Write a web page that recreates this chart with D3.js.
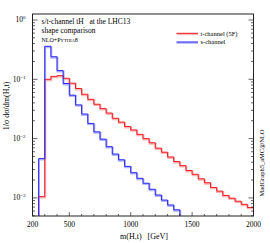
<!DOCTYPE html>
<html>
<head>
<meta charset="utf-8">
<script src="https://cdn.jsdelivr.net/npm/d3@7"></script>
<style>
  body { margin: 0; background: #fff; }
  svg { display: block; font-family: "Liberation Serif", "DejaVu Serif", serif; }
</style>
</head>
<body>
<svg id="chart" width="270" height="243"></svg>
<script>
// lower bin edges (GeV), bin width 50
var binWidth = 50;
var redEdges = [250, 300, 350, 400, 450, 500, 550, 600, 650, 700, 750, 800, 850, 900, 950,
  1000, 1050, 1100, 1150, 1200, 1250, 1300, 1350, 1400, 1450, 1500, 1550, 1600, 1650, 1700,
  1750, 1800, 1850, 1900, 1950];
var redValues = [0.00105, 0.100, 0.112, 0.115, 0.104, 0.086, 0.070, 0.056, 0.046, 0.038,
  0.032, 0.027, 0.022, 0.019, 0.016, 0.0140, 0.0118, 0.0100, 0.0085, 0.0069, 0.0059, 0.0049,
  0.0041, 0.0035, 0.0029, 0.0025, 0.0021, 0.0018, 0.0015, 0.0013, 0.0011, 0.00099, 0.00088,
  0.00078, 0.00069];
var blueEdges = [250, 300, 350, 400, 450, 500, 550, 600, 650, 700, 750, 800, 850, 900, 950,
  1000, 1050, 1100, 1150, 1200, 1250, 1300, 1350];
var blueValues = [0.0046, 0.36, 0.24, 0.14, 0.085, 0.054, 0.037, 0.026, 0.018, 0.013, 0.0098,
  0.0073, 0.0055, 0.0044, 0.0034, 0.00266, 0.00214, 0.00177, 0.0014, 0.00112, 0.00092,
  0.00076, 0.00063];
var xTickLabels = [200, 500, 1000, 1500, 2000];
var yDecades = [-3, -2, -1, 0];
var legendNames = ['t-channel (5F)', 's-channel'];

var margin = {top: 14, right: 16.5, bottom: 27, left: 32.5};
var outerWidth = 270, outerHeight = 243;
var width = outerWidth - margin.left - margin.right;
var height = outerHeight - margin.top - margin.bottom;

var svg = d3.select('#chart');
var g = svg.append('g').attr('transform', 'translate(' + margin.left + ',' + margin.top + ')');

var x = d3.scaleLinear().domain([200, 2000]).range([0, width]);
var y = d3.scaleLog().domain([Math.pow(10, -3.305), Math.pow(10, 0.101)]).range([height, 0]);

var yMin = y.domain()[0];

// step outline of a histogram, dropping to the bottom at both ends
var histPoints = function(edges, values) {
  var pts = [[edges[0], yMin]];
  edges.forEach(function(e, i) {
    pts.push([e, values[i]]);
    pts.push([e + binWidth, values[i]]);
  });
  pts.push([edges[edges.length - 1] + binWidth, yMin]);
  return pts;
};

var line = d3.line()
    .x(function(d) { return x(d[0]); })
    .y(function(d) { return y(d[1]); });

var plot = g.append('g');
plot.append('clipPath').attr('id', 'clip').append('rect').attr('width', width).attr('height', height);
var hist = plot.append('g').attr('clip-path', 'url(#clip)');

var series = [
  {edges: redEdges, values: redValues, color: '#f01c24', light: '#f9b4b4'},
  {edges: blueEdges, values: blueValues, color: '#2a2af0', light: '#b4b4fc'}
];

// pale band under each histogram
series.forEach(function(s) {
  hist.append('path')
      .attr('d', line(histPoints(s.edges, s.values)))
      .attr('transform', 'translate(0.4,0.9)')
      .attr('fill', 'none')
      .attr('stroke', s.light)
      .attr('stroke-width', 2);
});
series.forEach(function(s) {
  hist.append('path')
      .attr('d', line(histPoints(s.edges, s.values)))
      .attr('fill', 'none')
      .attr('stroke', s.color)
      .attr('stroke-width', 1);
});

//
// Axes
//
var minorX = d3.range(200, 2001, 100);
var majorY = yDecades.map(function(k) { return Math.pow(10, k); });
var minorY = [];
[-4, -3, -2, -1, 0].forEach(function(k) {
  for (var m = 2; m <= 9; m++) {
    var v = m * Math.pow(10, k);
    if (v > yMin && v < y.domain()[1]) minorY.push(v);
  }
});

var ticks = g.append('g').attr('stroke', '#222').attr('stroke-width', 0.7);
// bottom ticks
ticks.selectAll('.xt').data(minorX).enter().append('line')
    .attr('x1', function(d) { return x(d); }).attr('x2', function(d) { return x(d); })
    .attr('y1', height).attr('y2', function(d) { return height - (d % 500 === 0 ? 4 : 2); });
// left/right ticks
[0, width].forEach(function(side) {
  var dir = side === 0 ? 1 : -1;
  ticks.selectAll(null).data(majorY).enter().append('line')
      .attr('x1', side).attr('x2', side + dir * 5)
      .attr('y1', function(d) { return y(d); }).attr('y2', function(d) { return y(d); });
  ticks.selectAll(null).data(minorY).enter().append('line')
      .attr('x1', side).attr('x2', side + dir * 2.5)
      .attr('y1', function(d) { return y(d); }).attr('y2', function(d) { return y(d); });
});

g.append('rect')
    .attr('width', width).attr('height', height)
    .attr('fill', 'none').attr('stroke', '#222').attr('stroke-width', 1);

// tick labels
g.append('g').selectAll('text').data(xTickLabels).enter().append('text')
    .attr('x', function(d) { return x(d); })
    .attr('y', height + 11)
    .attr('text-anchor', 'middle')
    .attr('font-size', 7.5)
    .text(function(d) { return d; });

var yl = g.append('g').selectAll('text').data(yDecades).enter().append('text')
    .attr('x', -7)
    .attr('y', function(d) { return y(Math.pow(10, d)) + 2.5; })
    .attr('text-anchor', 'end')
    .attr('font-size', 7.5);
yl.append('tspan').text('10');
yl.append('tspan').attr('dy', -3).attr('font-size', 5).text(function(d) { return d === 0 ? '0' : '\u2212' + (-d); });

// axis titles
svg.append('text')
    .attr('transform', 'translate(9,' + (margin.top + 92) + ') rotate(-90)')
    .attr('text-anchor', 'middle')
    .attr('font-size', 8)
    .text('1/\u03c3 d\u03c3/dm(H,t)');

svg.append('text')
    .attr('x', 144).attr('y', 239)
    .attr('text-anchor', 'middle')
    .attr('font-size', 8)
    .attr('xml:space', 'preserve')
    .text('m(H,t)   [GeV]');

svg.append('text')
    .attr('transform', 'translate(264,' + (margin.top + 149) + ') rotate(-90)')
    .attr('text-anchor', 'middle')
    .attr('font-size', 6.5)
    .text('MadGraph5_aMC@NLO');

// annotations
g.append('text').attr('x', 9).attr('y', 10).attr('font-size', 7.5)
    .attr('xml:space', 'preserve').text('s/t-channel tH   at the LHC13');
g.append('text').attr('x', 9).attr('y', 19).attr('font-size', 7.5).text('shape comparison');
var nlo = g.append('text').attr('x', 9).attr('y', 28).attr('font-size', 6);
nlo.append('tspan').text('NLO+P');
nlo.append('tspan').attr('font-size', 4.6).text('YTHIA');
nlo.append('tspan').text('8');

// legend
var legend = g.append('g').attr('transform', 'translate(' + (176.5 - margin.left) + ',' + (33.3 - margin.top) + ')');
series.forEach(function(s, i) {
  var row = legend.append('g').attr('transform', 'translate(0,' + i * 8.7 + ')');
  row.append('line').attr('x1', 0).attr('x2', 21.5).attr('y1', 0.8).attr('y2', 0.8)
      .attr('stroke', s.light).attr('stroke-width', 2);
  row.append('line').attr('x1', 0).attr('x2', 21.5).attr('y1', 0).attr('y2', 0)
      .attr('stroke', s.color).attr('stroke-width', 1);
  row.append('text').attr('x', 24).attr('y', 2.3).attr('font-size', 6.5).text(legendNames[i]);
});
</script>
</body>
</html>
